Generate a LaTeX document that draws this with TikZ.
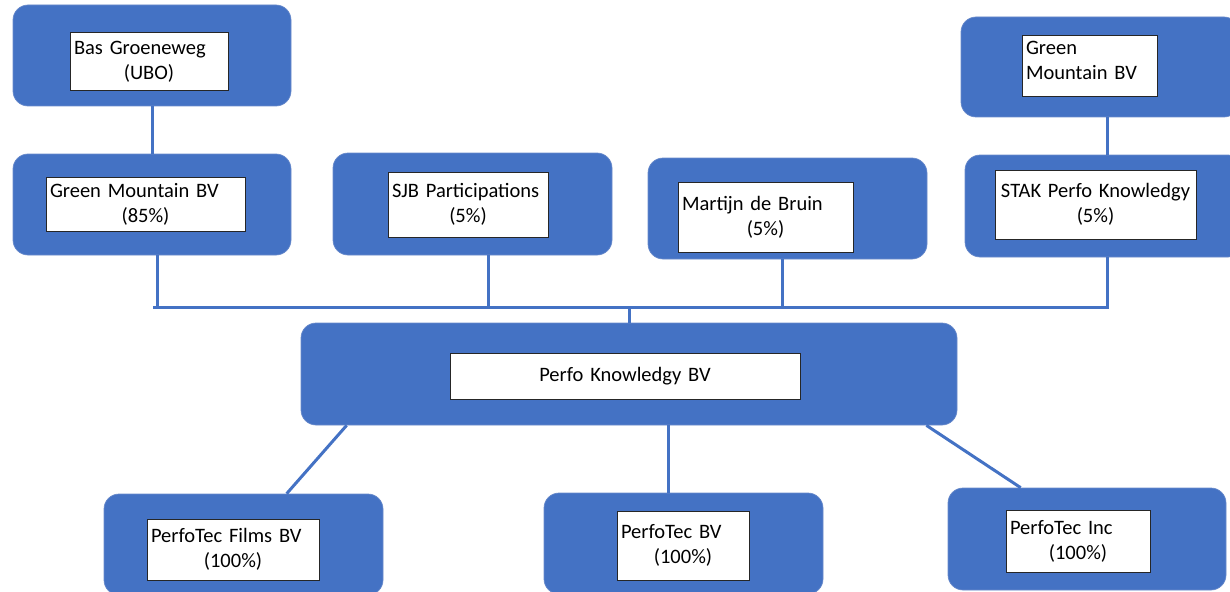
\documentclass[tikz,border=0pt]{standalone}
\usepackage{fontspec}
\setmainfont{Carlito}
\definecolor{orgblue}{HTML}{4472C4}
\definecolor{orgedge}{HTML}{6A8BCB}
\newcommand{\centred}[1]{\hbox to\hsize{\hfil #1\hfil}}
\tikzstyle{holder} = [rectangle, draw=orgedge, fill=orgblue, line width=0.7pt,
    rounded corners=15pt, minimum width=278pt, minimum height=101pt]
\tikzstyle{namebox} = [rectangle, draw=black!85, fill=white, line width=1pt,
    inner xsep=4pt, inner ysep=0pt, align=left, font=\fontsize{20.5}{25}\selectfont]
\tikzstyle{link} = [draw=orgblue, line width=3pt]

\begin{document}
\begin{tikzpicture}[x=1pt, y=-1pt]
    \useasboundingbox (0,0) rectangle (1230,591);
    \clip (0,0) rectangle (1230,591);
    % Place outer boxes
    \node [holder] (bas) at (152,55.5) {};
    \node [holder] (gm) at (152,204.5) {};
    \node [holder, minimum width=279pt, minimum height=102pt] (sjb) at (472.5,204) {};
    \node [holder, minimum width=279pt] (mdb) at (787.5,208.5) {};
    \node [holder, minimum height=102pt] (stak) at (1104,206) {};
    \node [holder, minimum height=100pt] (gmtop) at (1100,67) {};
    \node [holder, minimum width=656pt, minimum height=102pt] (pk) at (629,374) {};
    \node [holder, minimum width=279pt] (ptf) at (243.5,544.5) {};
    \node [holder, minimum width=279pt] (ptbv) at (683.5,543.5) {};
    \node [holder, minimum height=102pt] (pti) at (1087,539) {};
    % Place name boxes
    \node [namebox, text width=150pt, minimum height=58pt] (bastxt) at (149,62)
        {Bas Groeneweg\\\centred{(UBO)}};
    \node [namebox, text width=191pt, minimum height=54pt] (gmtxt) at (145.5,204)
        {Green Mountain BV\\\centred{(85\%)}};
    \node [namebox, text width=152pt, minimum height=65pt] (sjbtxt) at (468,204.5)
        {SJB Participations\\\centred{(5\%)}};
    \node [namebox, text width=167pt, minimum height=70pt] (mdbtxt) at (765.5,217)
        {Martijn de Bruin\\\centred{(5\%)}};
    \node [namebox, inner xsep=2pt, text width=197pt, minimum height=69pt, align=center]
        (staktxt) at (1095.5,204.5) {STAK Perfo Knowledgy\\(5\%)};
    \node [namebox, text width=127pt, text height=19pt, text depth=42pt] (gmtoptxt)
        at (1089.5,66.5) {Green\\Mountain BV};
    \node [namebox, text width=342pt, minimum height=46pt, align=center] (pktxt)
        at (625,376) {Perfo Knowledgy BV};
    \node [namebox, text width=164pt, minimum height=61pt] (ptftxt) at (233,549.5)
        {PerfoTec Films BV\\\centred{(100\%)}};
    \node [namebox, text width=124pt, minimum height=69pt] (ptbvtxt) at (683,545.5)
        {PerfoTec BV\\\centred{(100\%)}};
    \node [namebox, text width=136pt, minimum height=62pt] (ptitxt) at (1078,541)
        {PerfoTec Inc\\\centred{(100\%)}};
    % Draw connectors
    \coordinate (busL) at (153,307.5);
    \coordinate (busR) at (1108.5,307.5);
    \path [link] (bas.south) -- (gm.north);
    \path [link] ([xshift=7pt]gmtop.south) -- ([xshift=7pt]gmtop.south |- stak.north);
    \path [link] (busL) -- (busR);
    \path [link] ([xshift=5pt]gm.south) -- ([xshift=5pt]gm.south |- busL);
    \path [link] ([xshift=15.5pt]sjb.south) -- ([xshift=15.5pt]sjb.south |- busL);
    \path [link] ([xshift=-5.5pt]mdb.south) -- ([xshift=-5.5pt]mdb.south |- busL);
    \path [link] ([xshift=3pt]stak.south) -- ([xshift=3pt]stak.south |- busL);
    \path [link] (pk.north) -- (pk.north |- busL);
    \path [link] ([xshift=46pt]pk.south west) -- ([xshift=183pt]ptf.north west);
    \path [link] ([xshift=39pt]pk.south) -- ([xshift=39pt]pk.south |- ptbv.north);
    \path [link] ([xshift=-31pt]pk.south east) -- ([xshift=73pt]pti.north west);
\end{tikzpicture}
\end{document}
